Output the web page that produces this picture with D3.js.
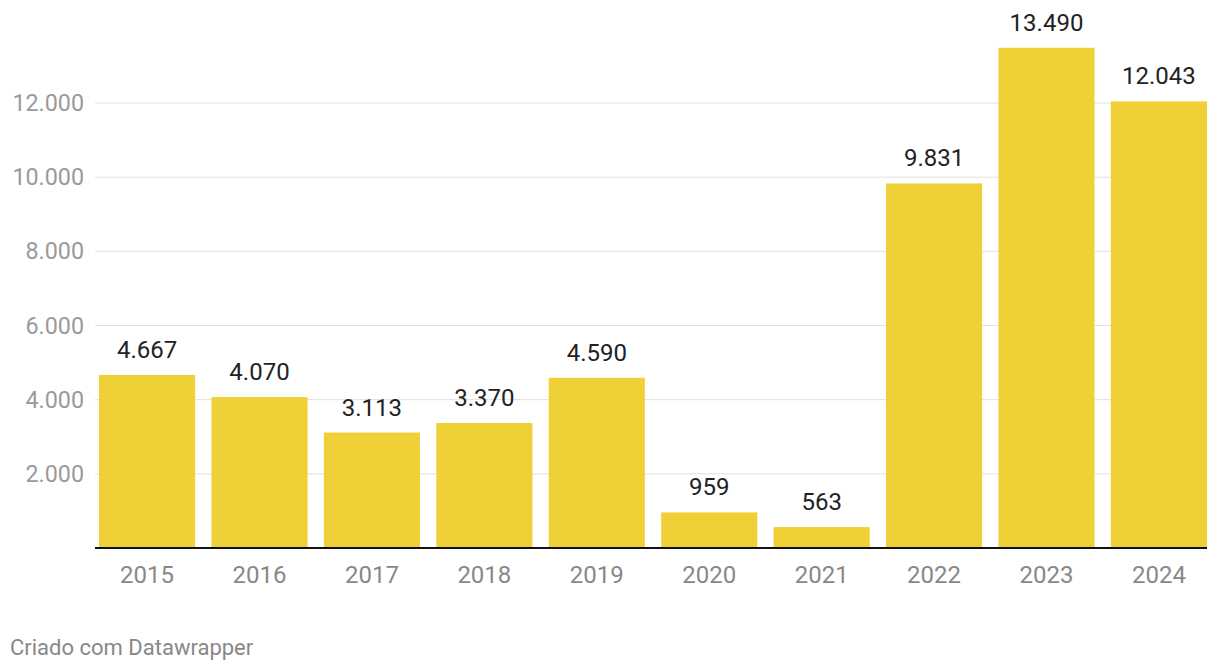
<!DOCTYPE html>
<html><head><meta charset="utf-8">
<script src="https://cdn.jsdelivr.net/npm/d3@7"></script>
<style>
html,body{margin:0;padding:0;background:#fff;}
text{font-family:Roboto,"Noto Sans",sans-serif;}
</style></head>
<body>
<svg id="chart" width="1220" height="672"></svg>
<script>
const years = ["2015","2016","2017","2018","2019","2020","2021","2022","2023","2024"];
const values = [4667,4070,3113,3370,4590,959,563,9831,13490,12043];
const yTicks = [2000,4000,6000,8000,10000,12000];
const footer = "Criado com Datawrapper";

const svg = d3.select("#chart");
const fmt = v => d3.format(",")(v).replace(/,/g, ".");

const x = d3.scaleBand().domain(years).range([99, 1207]).paddingInner(0.145).paddingOuter(0);
const y = d3.scaleLinear().domain([0, 12000]).range([548, 103]);

// gridlines
svg.append("g").selectAll("line").data(yTicks).join("line")
  .attr("x1", 95).attr("x2", 1207)
  .attr("y1", d => y(d)).attr("y2", d => y(d))
  .attr("stroke", "#e0e0e0").attr("stroke-width", 1);

// y labels
svg.append("g").selectAll("text").data(yTicks).join("text")
  .attr("x", 84).attr("y", d => y(d)).attr("dy", "0.35em")
  .attr("text-anchor", "end").attr("font-size", 23.3).attr("fill", "#9a9a9a")
  .text(d => fmt(d));

// bars
svg.append("g").selectAll("rect").data(values).join("rect")
  .attr("x", (d, i) => x(years[i])).attr("width", x.bandwidth())
  .attr("y", d => y(d)).attr("height", d => y(0) - y(d))
  .attr("fill", "#efd036");

// value labels
svg.append("g").selectAll("text").data(values).join("text")
  .attr("x", (d, i) => x(years[i]) + x.bandwidth() / 2)
  .attr("y", d => y(d) - 17)
  .attr("text-anchor", "middle").attr("font-size", 24).attr("fill", "#222")
  .text(d => fmt(d));

// baseline
svg.append("line").attr("x1", 95).attr("x2", 1207)
  .attr("y1", y(0)).attr("y2", y(0))
  .attr("stroke", "#111").attr("stroke-width", 2);

// x labels
const xAxis = d3.axisBottom(x).tickSize(0).tickPadding(0);
const gx = svg.append("g").attr("transform", `translate(0,${y(0)})`).call(xAxis);
gx.select(".domain").remove();
gx.selectAll("text").attr("font-size", 24).attr("fill", "#888")
  .attr("font-family", "Roboto,'Noto Sans',sans-serif")
  .attr("y", 27).attr("dy", "0.35em");

// footer
svg.append("text").attr("x", 10).attr("y", 655)
  .attr("font-size", 22).attr("fill", "#888").text(footer);
</script>
</body></html>
